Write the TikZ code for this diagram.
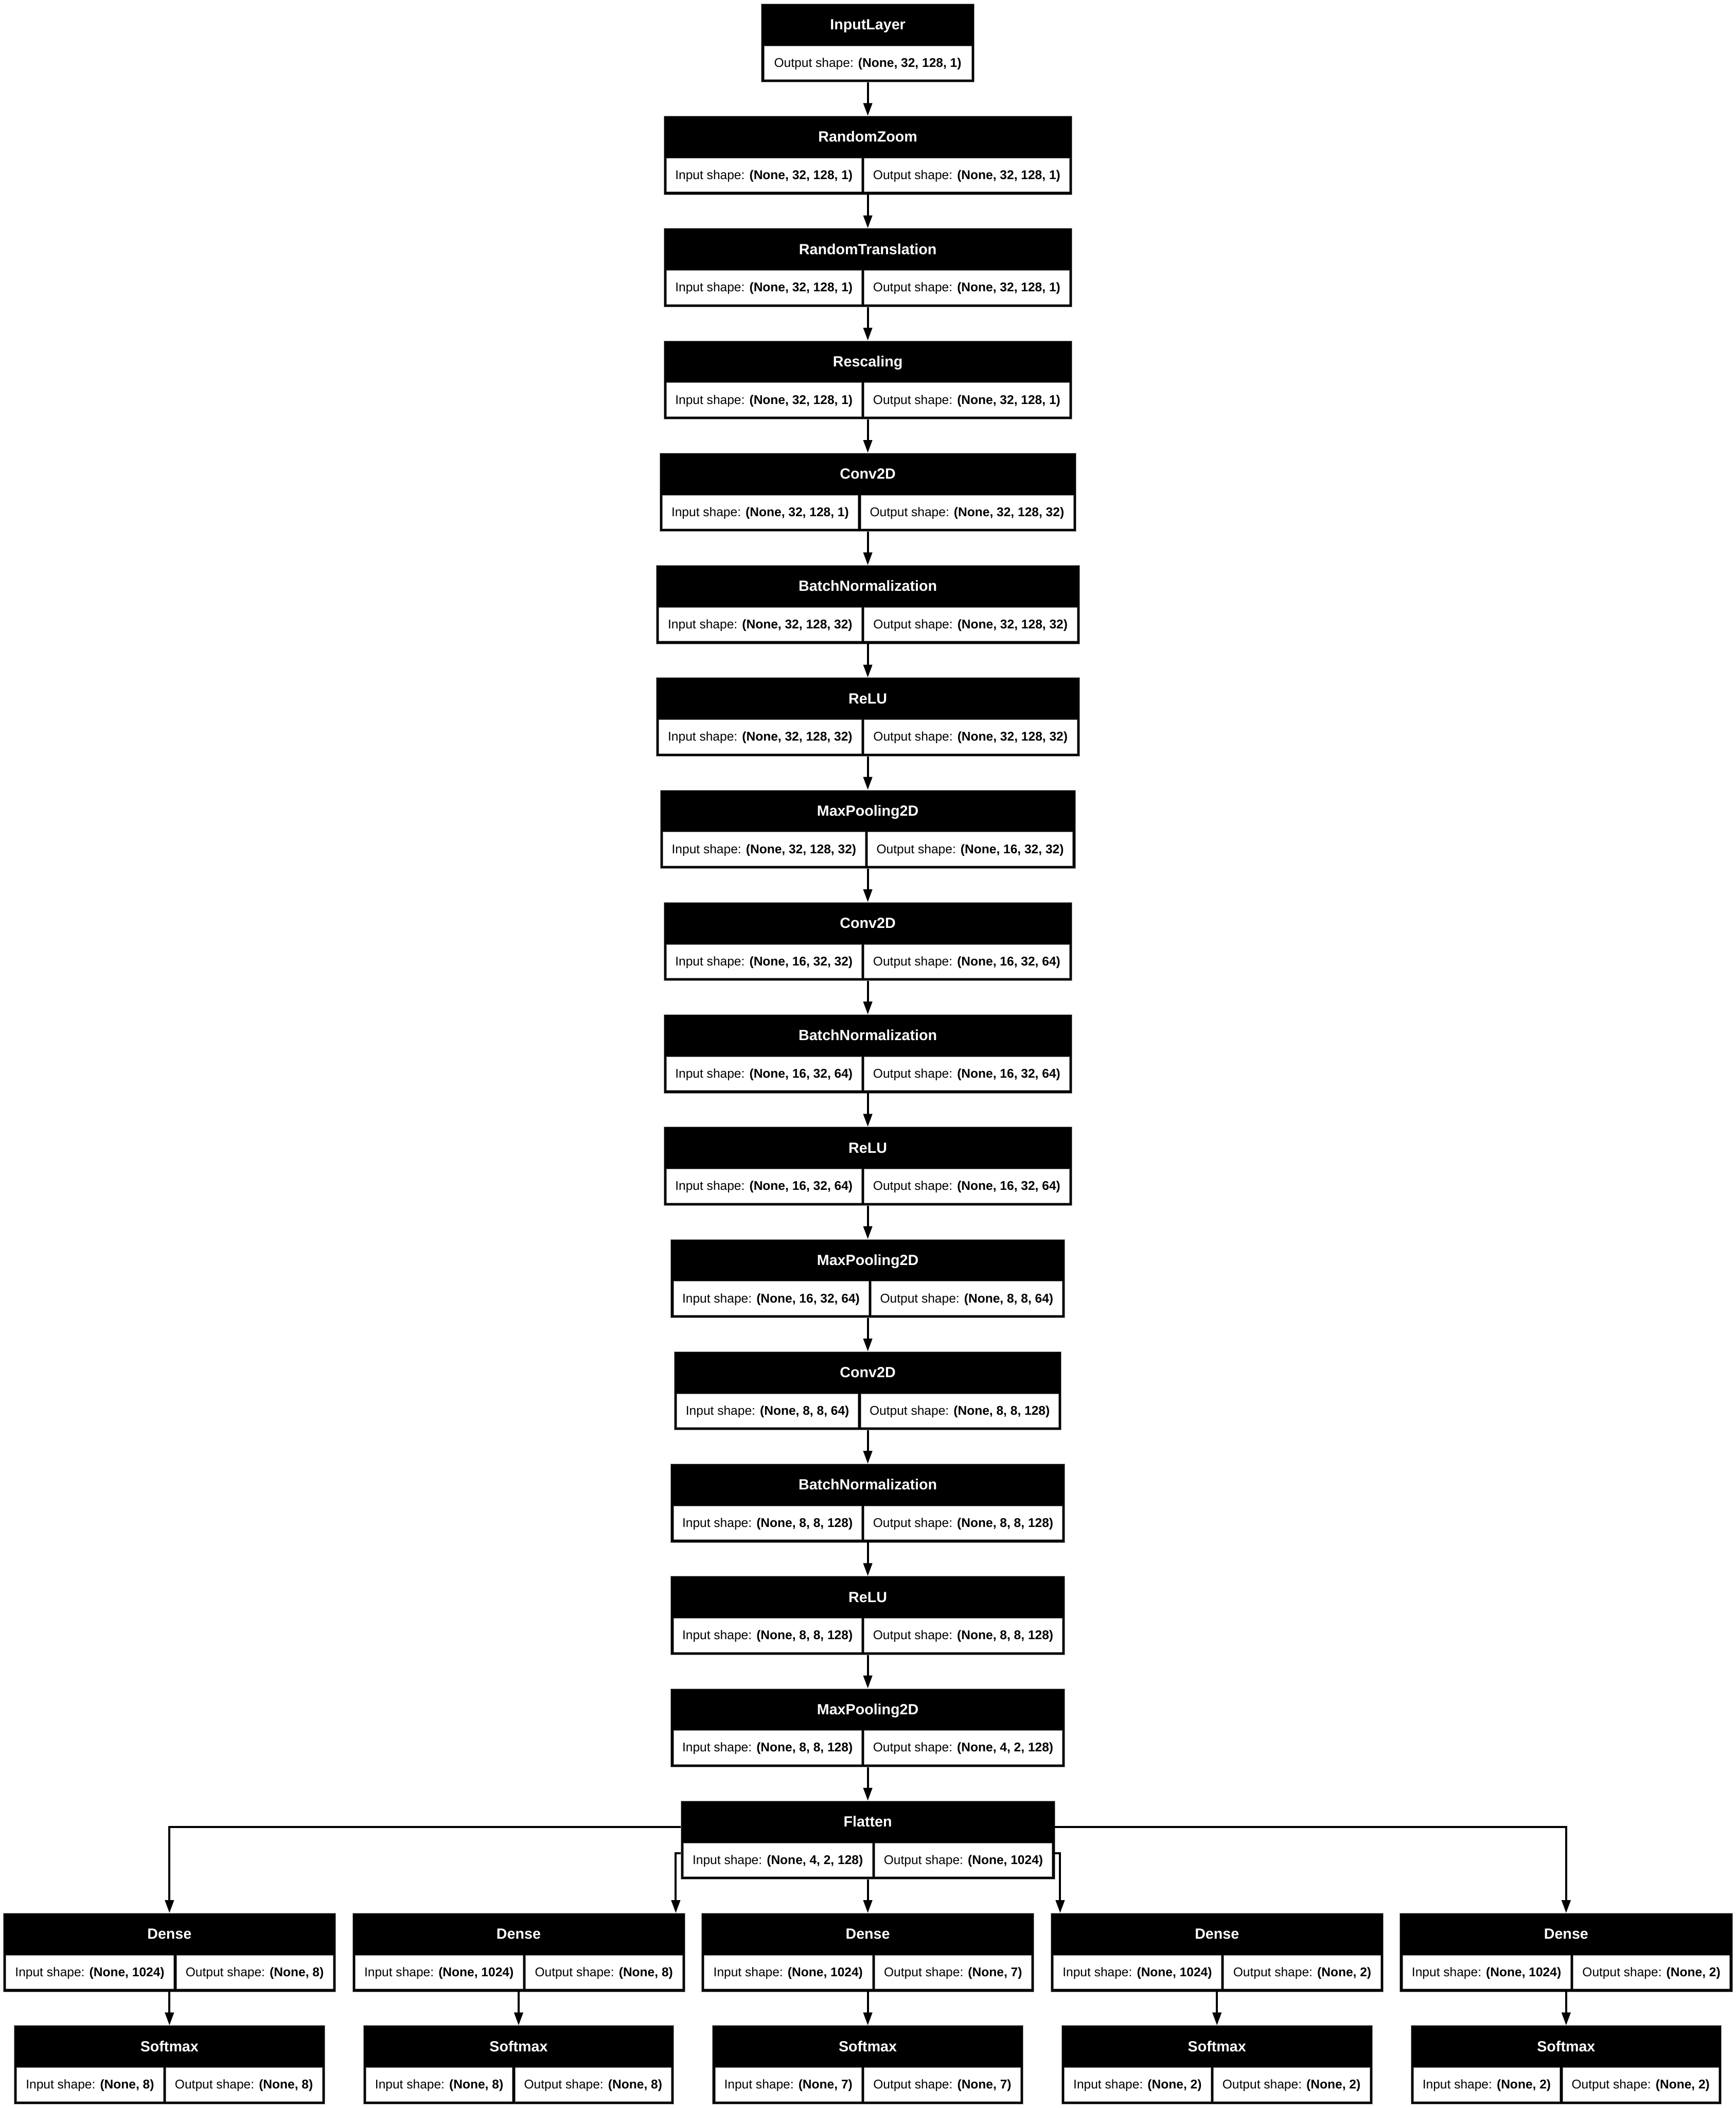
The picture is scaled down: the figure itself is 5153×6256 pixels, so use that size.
\documentclass[tikz,border=0pt]{standalone}
\usepackage{fontspec}
\setmainfont{Liberation Sans}
\usetikzlibrary{arrows.meta}
\tikzset{
  layerbox/.style={rectangle, fill=black, draw=black!40, line width=0.3pt, inner sep=0pt, minimum height=233*0.32pt},
  cellbox/.style={fill=white, draw=black!45, line width=0.3pt},
  titletext/.style={anchor=base, text=white, inner sep=0pt, font=\fontsize{14}{16}\selectfont\bfseries},
  celltext/.style={anchor=base, text=black, inner sep=0pt, font=\fontsize{12}{14}\selectfont},
  conn/.style={draw=black, line width=1.92pt, line join=miter, -{Triangle[length=12.16pt, width=8.32pt]}},
}
% #1 name, #2 centre x, #3 top y, #4 width, #5 split offset, #6 title, #7 input, #8 output
\newcommand\twolayer[8]{%
  \pgfmathsetmacro\LayL{#2-#4/2}%
  \pgfmathsetmacro\LayR{#2+#4/2}%
  \pgfmathsetmacro\LayS{#2+#5}%
  \node[layerbox, minimum width={#4*0.32pt}] (#1) at (#2,#3+116.5) {};
  \node[titletext] (#1-t) at (#2,#3+77) {#6};
  \draw[cellbox] (\LayL+8,#3+125) rectangle (\LayS-4,#3+225);
  \draw[cellbox] (\LayS+4,#3+125) rectangle (\LayR-8,#3+225);
  \node[celltext] (#1-i) at ({(\LayL+\LayS+4)/2},#3+188) {Input shape: \textbf{#7}};
  \node[celltext] (#1-o) at ({(\LayS+\LayR-4)/2},#3+188) {Output shape: \textbf{#8}};
}
\begin{document}
\begin{tikzpicture}[x=0.32pt, y=-0.32pt]
\fill[white] (0,0) rectangle (5153,6256);
\useasboundingbox (0,0) rectangle (5153,6256);

% InputLayer
\node[layerbox, minimum width={632*0.32pt}] (L0) at (2576,11+116.5) {};
\node[titletext] (L0-t) at (2576,11+77) {InputLayer};
\draw[cellbox] (2260+8,11+125) rectangle (2892-8,11+225);
\node[celltext] (L0-o) at (2576,11+188) {Output shape: \textbf{(None, 32, 128, 1)}};

\twolayer{L1}{2576}{344.33}{1212}{-14.6}{RandomZoom}{(None, 32, 128, 1)}{(None, 32, 128, 1)}
\twolayer{L2}{2576}{677.67}{1212}{-14.6}{RandomTranslation}{(None, 32, 128, 1)}{(None, 32, 128, 1)}
\twolayer{L3}{2576}{1011}{1212}{-14.6}{Rescaling}{(None, 32, 128, 1)}{(None, 32, 128, 1)}
\twolayer{L4}{2576}{1344.33}{1236}{-25}{Conv2D}{(None, 32, 128, 1)}{(None, 32, 128, 32)}
\twolayer{L5}{2576}{1677.67}{1257}{-14.6}{BatchNormalization}{(None, 32, 128, 32)}{(None, 32, 128, 32)}
\twolayer{L6}{2576}{2011}{1257}{-14.6}{ReLU}{(None, 32, 128, 32)}{(None, 32, 128, 32)}
\twolayer{L7}{2576}{2344.33}{1232}{-4.2}{MaxPooling2D}{(None, 32, 128, 32)}{(None, 16, 32, 32)}
\twolayer{L8}{2576}{2677.67}{1212}{-14.6}{Conv2D}{(None, 16, 32, 32)}{(None, 16, 32, 64)}
\twolayer{L9}{2576}{3011}{1212}{-14.6}{BatchNormalization}{(None, 16, 32, 64)}{(None, 16, 32, 64)}
\twolayer{L10}{2576}{3344.33}{1212}{-14.6}{ReLU}{(None, 16, 32, 64)}{(None, 16, 32, 64)}
\twolayer{L11}{2576}{3677.67}{1170}{6.25}{MaxPooling2D}{(None, 16, 32, 64)}{(None, 8, 8, 64)}
\twolayer{L12}{2576}{4011}{1149}{-25}{Conv2D}{(None, 8, 8, 64)}{(None, 8, 8, 128)}
\twolayer{L13}{2576}{4344.33}{1170}{-14.6}{BatchNormalization}{(None, 8, 8, 128)}{(None, 8, 8, 128)}
\twolayer{L14}{2576}{4677.67}{1170}{-14.6}{ReLU}{(None, 8, 8, 128)}{(None, 8, 8, 128)}
\twolayer{L15}{2576}{5011}{1170}{-14.6}{MaxPooling2D}{(None, 8, 8, 128)}{(None, 4, 2, 128)}
\twolayer{flat}{2576}{5344.33}{1110}{16.7}{Flatten}{(None, 4, 2, 128)}{(None, 1024)}

\twolayer{d1}{503}{5677.67}{987}{16.7}{Dense}{(None, 1024)}{(None, 8)}
\twolayer{d2}{1539.5}{5677.67}{987}{16.7}{Dense}{(None, 1024)}{(None, 8)}
\twolayer{d3}{2576}{5677.67}{987}{16.7}{Dense}{(None, 1024)}{(None, 7)}
\twolayer{d4}{3612.5}{5677.67}{987}{16.7}{Dense}{(None, 1024)}{(None, 2)}
\twolayer{d5}{4649}{5677.67}{987}{16.7}{Dense}{(None, 1024)}{(None, 2)}

\twolayer{s1}{503}{6011}{922}{-14.6}{Softmax}{(None, 8)}{(None, 8)}
\twolayer{s2}{1539.5}{6011}{922}{-14.6}{Softmax}{(None, 8)}{(None, 8)}
\twolayer{s3}{2576}{6011}{922}{-14.6}{Softmax}{(None, 7)}{(None, 7)}
\twolayer{s4}{3612.5}{6011}{922}{-14.6}{Softmax}{(None, 2)}{(None, 2)}
\twolayer{s5}{4649}{6011}{922}{-14.6}{Softmax}{(None, 2)}{(None, 2)}

% column connectors
\foreach \a/\b in {L0/L1,L1/L2,L2/L3,L3/L4,L4/L5,L5/L6,L6/L7,L7/L8,L8/L9,L9/L10,L10/L11,L11/L12,L12/L13,L13/L14,L14/L15,L15/flat,flat/d3,d1/s1,d2/s2,d3/s3,d4/s4,d5/s5}
  \draw[conn] (\a.south) -- (\b.north);

% branches from Flatten
\coordinate (b1) at (503,5422);
\coordinate (b2) at (2006,5500);
\coordinate (b4) at (3147,5500);
\coordinate (b5) at (4649,5422);
\draw[conn] (flat.west |- b1) -- (b1) -- (d1.north);
\draw[conn] (flat.west |- b2) -- (b2) -- (b2 |- d2.north);
\draw[conn] (flat.east |- b4) -- (b4) -- (b4 |- d4.north);
\draw[conn] (flat.east |- b5) -- (b5) -- (d5.north);
\end{tikzpicture}
\end{document}
